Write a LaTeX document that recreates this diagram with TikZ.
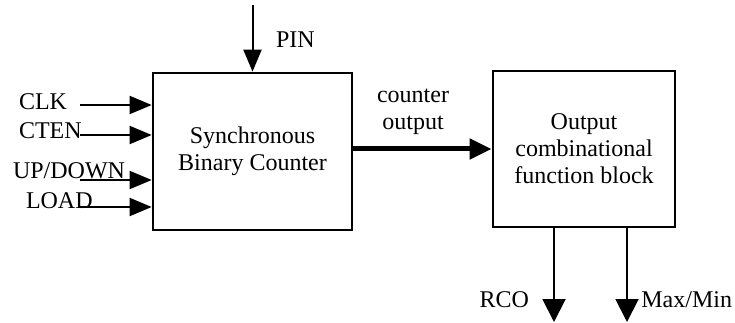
\documentclass[tikz,border=0pt]{standalone}
\usepackage{fontspec}
\setmainfont{Liberation Serif}
\usetikzlibrary{
  arrows.meta,
  positioning
}

\begin{document}
\begin{tikzpicture}[
    x=1pt, y=-1pt,
    line width=2pt,
  every node/.style = {font=\fontsize{24}{27}\selectfont, inner sep=0pt},
  block/.style = {draw, line width=2.7pt, align=center},
  sig/.style = {-{Triangle[length=22pt,width=18pt]}},
  outsig/.style = {-{Triangle[length=23pt,width=23pt]}},
  bus/.style = {line width=5pt, -{Triangle[length=22pt,width=20pt]}}]
  \useasboundingbox (0,0) rectangle (735,323);
  % blocks
  \node[block, minimum width=199pt, minimum height=157pt] (counter) at (252.5,151.5)
    {Synchronous\\Binary Counter};
  \node[block, minimum width=182pt, minimum height=156pt] (output) at (584,149)
    {Output\\combinational\\function block};
  % inputs
  \coordinate (clk) at (80,105);
  \coordinate (cten) at (80,135);
  \coordinate (updown) at (80,180);
  \coordinate (load) at (80,207);
  \coordinate (pin) at (252.5,5);
  \draw[sig] (clk) -- (clk -| counter.west);
  \draw[sig] (cten) -- (cten -| counter.west);
  \draw[sig] (updown) -- (updown -| counter.west);
  \draw[sig] (load) -- (load -| counter.west);
  \draw[sig] (pin) -- (counter.north);
  \node[anchor=west] (clklbl) at (18,102) {CLK};
  \node[anchor=west] (ctenlbl) at (18,131) {CTEN};
  \node[anchor=west] (updownlbl) at (12,171) {UP/DOWN};
  \node[anchor=west] (loadlbl) at (25,201) {LOAD};
  \node[anchor=west] (pinlbl) at (275,40) {PIN};
  % counter output
  \draw[bus] (counter.east |- 0,149) -- (output.west |- 0,149);
  \node[align=center] (cntlbl) at (413,112) {counter\\output};
  % outputs
  \coordinate (rco) at (554,322);
  \coordinate (maxmin) at (627,322);
  \draw[outsig] (output.south -| rco) -- (rco);
  \draw[outsig] (output.south -| maxmin) -- (maxmin);
  \node[anchor=east] (rcolbl) at (530,300) {RCO};
  \node[anchor=east] (maxminlbl) at (733,300) {Max/Min};
\end{tikzpicture}
\end{document}
